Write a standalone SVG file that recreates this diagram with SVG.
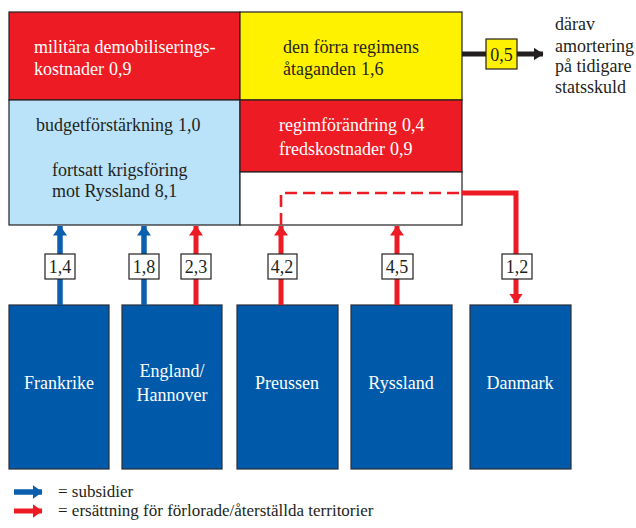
<svg xmlns="http://www.w3.org/2000/svg" width="636" height="528" viewBox="0 0 636 528" font-family="Liberation Serif, Tinos, Times New Roman, serif" font-size="18">
  <style>
    .dark { fill: #231f20; }
    .light { fill: #ffffff; }
    .cell { stroke: #231f20; stroke-width: 1.2; }
    .country { fill: #005aa9; stroke: #2a2e3a; stroke-width: 1.2; }
    .tag { fill: #ffffff; stroke: #231f20; stroke-width: 1.2; }
    .blue { stroke: #0b5fae; stroke-width: 5.5; fill: none; }
    .red { stroke: #ed1c24; stroke-width: 5; fill: none; }
    .ctr { text-anchor: middle; }
    .key { font-size: 17px; }
  </style>
  <defs>
    <marker id="headBlue" viewBox="0 0 10 14" refX="9.5" refY="7" markerWidth="10" markerHeight="14" markerUnits="userSpaceOnUse" orient="auto">
      <path d="M0,0 L10,7 L0,14 z" fill="#0b5fae"/>
    </marker>
    <marker id="headRed" viewBox="0 0 10 14" refX="9.5" refY="7" markerWidth="10" markerHeight="14" markerUnits="userSpaceOnUse" orient="auto">
      <path d="M0,0 L10,7 L0,14 z" fill="#ed1c24"/>
    </marker>
    <marker id="headBlack" viewBox="0 0 10 13" refX="9.5" refY="6.5" markerWidth="10" markerHeight="13" markerUnits="userSpaceOnUse" orient="auto">
      <path d="M0,0 L10,6.5 L0,13 z" fill="#231f20"/>
    </marker>
  </defs>

  <!-- budget block -->
  <g id="demobilisering">
    <rect class="cell" x="9" y="12" width="231" height="88" fill="#ed1c24"/>
    <text class="light" x="34" y="53">militära demobiliserings-</text>
    <text class="light" x="34" y="75">kostnader<tspan dx="5">0,9</tspan></text>
  </g>
  <g id="atagenden">
    <rect class="cell" x="240" y="12" width="222" height="88" fill="#fff200"/>
    <text class="dark" x="283" y="53">den förra regimens</text>
    <text class="dark" x="283" y="75">åtaganden<tspan dx="5">1,6</tspan></text>
  </g>
  <g id="krigsforing">
    <rect class="cell" x="9" y="100" width="231" height="125" fill="#bae3f9"/>
    <text class="dark" x="36" y="131">budgetförstärkning<tspan dx="5">1,0</tspan></text>
    <text class="dark" x="52" y="176">fortsatt krigsföring</text>
    <text class="dark" x="52" y="197">mot Ryssland<tspan dx="5">8,1</tspan></text>
  </g>
  <g id="regimforandring">
    <rect class="cell" x="240" y="100" width="222" height="72" fill="#ed1c24"/>
    <text class="light" x="279" y="131">regimförändring<tspan dx="5">0,4</tspan></text>
    <text class="light" x="279" y="155">fredskostnader<tspan dx="5">0,9</tspan></text>
  </g>
  <g id="rest">
    <rect class="cell" x="240" y="172" width="222" height="53" fill="#ffffff"/>
  </g>

  <!-- countries -->
  <g id="frankrike">
    <rect class="country" x="9" y="305" width="100" height="164"/>
    <text class="light ctr" x="59" y="389">Frankrike</text>
  </g>
  <g id="england">
    <rect class="country" x="122" y="305" width="100" height="164"/>
    <text class="light ctr" x="172" y="377">England/</text>
    <text class="light ctr" x="172" y="401">Hannover</text>
  </g>
  <g id="preussen">
    <rect class="country" x="237" y="305" width="101" height="164"/>
    <text class="light ctr" x="287" y="389">Preussen</text>
  </g>
  <g id="ryssland">
    <rect class="country" x="351" y="305" width="101" height="164"/>
    <text class="light ctr" x="401" y="389">Ryssland</text>
  </g>
  <g id="danmark">
    <rect class="country" x="470" y="305" width="101" height="164"/>
    <text class="light ctr" x="520" y="389">Danmark</text>
  </g>

  <!-- side note -->
  <g id="statsskuld">
    <text class="dark" x="555" y="30">därav</text>
    <text class="dark" x="555" y="52">amortering</text>
    <text class="dark" x="555" y="72">på tidigare</text>
    <text class="dark" x="555" y="93">statsskuld</text>
  </g>

  <!-- flows -->
  <g id="connectors">
    <line class="blue" x1="60" y1="305" x2="60" y2="226" marker-end="url(#headBlue)"/>
    <line class="blue" x1="144" y1="305" x2="144" y2="226" marker-end="url(#headBlue)"/>
    <line class="red" x1="196" y1="305" x2="196" y2="226" marker-end="url(#headRed)"/>
    <line class="red" x1="281" y1="305" x2="281" y2="226" marker-end="url(#headRed)"/>
    <line class="red" x1="397" y1="305" x2="397" y2="226" marker-end="url(#headRed)"/>
    <path d="M281,225 V193 H462" fill="none" stroke="#ed1c24" stroke-width="2.6" stroke-dasharray="12,6"/>
    <path class="red" d="M462,193 H516 V303" marker-end="url(#headRed)"/>
    <line x1="462" y1="54" x2="543" y2="54" stroke="#231f20" stroke-width="5" marker-end="url(#headBlack)"/>

    <rect class="tag" x="45" y="254" width="30" height="25"/>
    <text class="dark ctr" x="60" y="273">1,4</text>
    <rect class="tag" x="129" y="254" width="30" height="25"/>
    <text class="dark ctr" x="144" y="273">1,8</text>
    <rect class="tag" x="181" y="254" width="30" height="25"/>
    <text class="dark ctr" x="196" y="273">2,3</text>
    <rect class="tag" x="268" y="254" width="29" height="25"/>
    <text class="dark ctr" x="282" y="273">4,2</text>
    <rect class="tag" x="382" y="254" width="31" height="25"/>
    <text class="dark ctr" x="397" y="273">4,5</text>
    <rect class="tag" x="502" y="254" width="30" height="25"/>
    <text class="dark ctr" x="517" y="273">1,2</text>
    <rect x="486" y="39" width="31" height="30" fill="#fff200" stroke="#231f20" stroke-width="1.2"/>
    <text class="dark ctr" x="501.5" y="61">0,5</text>
  </g>

  <!-- legend -->
  <g id="legend">
    <line class="blue" x1="14" y1="492" x2="42" y2="492" marker-end="url(#headBlue)"/>
    <text class="dark key" x="58" y="497">= subsidier</text>
    <line class="red" x1="14" y1="511" x2="42" y2="511" marker-end="url(#headRed)"/>
    <text class="dark key" x="58" y="516">= ersättning för förlorade/återställda territorier</text>
  </g>
</svg>
